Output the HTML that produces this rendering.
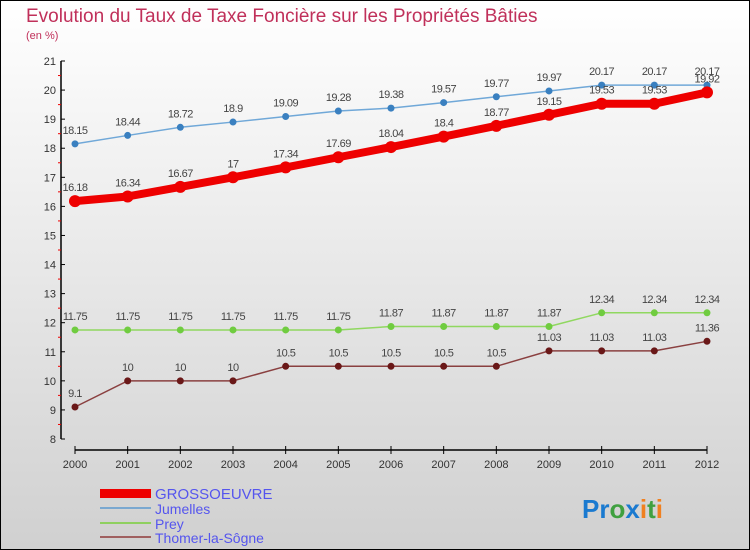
<!DOCTYPE html>
<html><head><meta charset="utf-8"><style>
body{margin:0}
#c{width:750px;height:550px;position:relative;overflow:hidden}
svg text{font-family:"Liberation Sans",sans-serif}
</style></head><body>
<div id="c">
<svg id="s" width="750" height="550" xmlns="http://www.w3.org/2000/svg">
<defs><linearGradient id="bg" x1="0" y1="0" x2="0" y2="1"><stop offset="0" stop-color="#ffffff"/><stop offset="1" stop-color="#d0d0d0"/></linearGradient></defs>
<rect x="0.5" y="0.5" width="749" height="549" fill="url(#bg)" stroke="#000"/>
<text x="26" y="22" font-size="19" fill="#c0305a">Evolution du Taux de Taxe Foncière sur les Propriétés Bâties</text>
<text x="26" y="39" font-size="11" fill="#c0305a">(en %)</text>
<g id="axes"></g><g id="series"></g>
<g>
<rect x="100" y="489" width="51" height="9" fill="#e00"/>
<text x="155" y="499" font-size="15" fill="#5555ee">GROSSOEUVRE</text>
<line x1="100" y1="508" x2="151" y2="508" stroke="#7aa8d0" stroke-width="2"/>
<text x="155" y="514" font-size="14" fill="#5555ee">Jumelles</text>
<line x1="100" y1="523" x2="151" y2="523" stroke="#8fd060" stroke-width="2"/>
<text x="155" y="529" font-size="14" fill="#5555ee">Prey</text>
<line x1="100" y1="537" x2="151" y2="537" stroke="#a06060" stroke-width="2"/>
<text x="155" y="543" font-size="14" fill="#5555ee">Thomer-la-Sôgne</text>
</g>
<text x="582" y="518" font-size="26" font-weight="bold"><tspan fill="#1a7ad0">Pr</tspan><tspan fill="#40a040">o</tspan><tspan fill="#1a7ad0">x</tspan><tspan fill="#f08020">i</tspan><tspan fill="#40a040">t</tspan><tspan fill="#f08020">i</tspan></text>
</svg></div>
<script>
const years=[2000,2001,2002,2003,2004,2005,2006,2007,2008,2009,2010,2011,2012];
const grossoeuvre=[16.18,16.34,16.67,17,17.34,17.69,18.04,18.4,18.77,19.15,19.53,19.53,19.92];
const jumelles=[18.15,18.44,18.72,18.9,19.09,19.28,19.38,19.57,19.77,19.97,20.17,20.17,20.17];
const prey=[11.75,11.75,11.75,11.75,11.75,11.75,11.87,11.87,11.87,11.87,12.34,12.34,12.34];
const thomer=[9.1,10,10,10,10.5,10.5,10.5,10.5,10.5,11.03,11.03,11.03,11.36];
const yTicks=[8,9,10,11,12,13,14,15,16,17,18,19,20,21];
const NS="http://www.w3.org/2000/svg";
function X(i){return 75+i*(707-75)/(years.length-1);}
function Y(v){return 439-(v-8)*(439-61)/13;}
function mk(p,t,a){const e=document.createElementNS(NS,t);for(const k in a)e.setAttribute(k,a[k]);p.appendChild(e);return e;}
const ax=document.getElementById('axes');
let l=mk(ax,'line',{x1:61,y1:61,x2:61,y2:439,stroke:'#000','stroke-width':1.5});


l=mk(ax,'line',{x1:75,y1:450,x2:707,y2:450,stroke:'#000','stroke-width':1.5});


yTicks.forEach(v=>{
 mk(ax,'line',{x1:61,y1:Y(v),x2:65,y2:Y(v),stroke:'#000'});
 if(v<21)mk(ax,'line',{x1:58,y1:Y(v+0.5),x2:61,y2:Y(v+0.5),stroke:'#e00'});
 const t=mk(ax,'text',{x:56,y:Y(v)+4,'font-size':11,fill:'#333','text-anchor':'end'});
 t.textContent=v;
 
 
});
years.forEach((y,i)=>{
 mk(ax,'line',{x1:X(i),y1:446,x2:X(i),y2:454,stroke:'#000'});
 const t=mk(ax,'text',{x:X(i),y:468,'font-size':11,fill:'#333','text-anchor':'middle'});
 t.textContent=y;
 
 
});
const sg=document.getElementById('series');
function draw(vals,name,color,dot,w,r){
 const g=mk(sg,'g',{});
 
 
 const p=mk(g,'polyline',{points:vals.map((v,i)=>X(i)+','+Y(v)).join(' '),fill:'none',stroke:color,'stroke-width':w,'stroke-linejoin':'round'});
 
 
 vals.forEach((v,i)=>{
  const c=mk(g,'circle',{cx:X(i),cy:Y(v),r:r,fill:dot});
  
  
  const t=mk(g,'text',{x:X(i),y:Y(v)-10,'font-size':11,fill:'#444','text-anchor':'middle','letter-spacing':'-0.5'});
  t.textContent=v;
  
  
 });
}
draw(thomer,'thomer-series','#8a4040','#6a1818',1.5,3.5);
draw(prey,'prey-series','#90d860','#70cc40',1.5,3.5);
draw(jumelles,'jumelles-series','#70a8d8','#3a80c0',1.5,3.5);
draw(grossoeuvre,'grossoeuvre-series','#ee0000','#ee0000',8,6);
</script>
</body></html>
